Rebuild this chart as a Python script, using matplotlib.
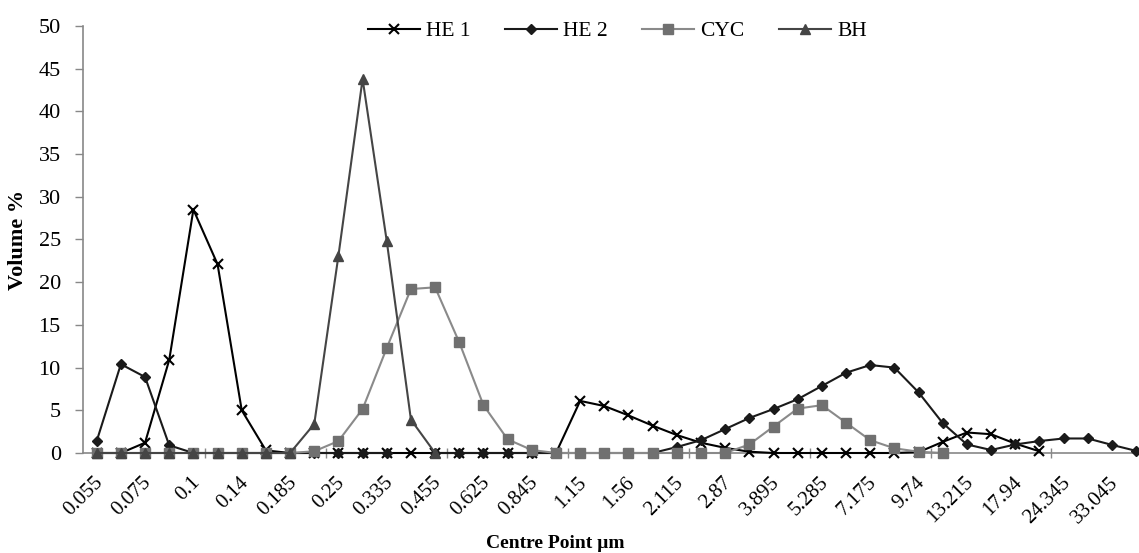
import numpy as np
import matplotlib.pyplot as plt
from matplotlib.transforms import ScaledTranslation

nan = np.nan

# centre point of each size class (um); only every second one is labelled
centres = ['0.055', '0.065', '0.075', '0.087', '0.1', '0.12', '0.14', '0.16',
           '0.185', '0.215', '0.25', '0.29', '0.335', '0.39', '0.455', '0.53',
           '0.625', '0.73', '0.845', '0.985', '1.15', '1.34', '1.56', '1.82',
           '2.115', '2.475', '2.87', '3.38', '3.895', '4.59', '5.285', '6.23',
           '7.175', '8.46', '9.74', '11.48', '13.215', '15.58', '17.94', '21.14',
           '24.345', '28.7', '33.045', '38.9']

he1 = [0, 0, 1.2, 10.9, 28.5, 22.1, 5.0, 0.3, 0, 0,
       0, 0, 0, 0, 0, 0, 0, 0, 0, 0,
       6.1, 5.5, 4.4, 3.2, 2.1, 1.2, 0.6, 0.15, 0, 0,
       0, 0, 0, 0, 0.1, 1.3, 2.4, 2.2, 1.1, 0.2,
       nan, nan, nan, nan]
he2 = [1.4, 10.4, 8.9, 0.9, 0, 0, 0, 0, 0, 0,
       0, 0, 0, nan, 0, 0, 0, 0, 0, 0,
       0, 0, 0, 0, 0.7, 1.5, 2.8, 4.1, 5.15, 6.3,
       7.85, 9.4, 10.3, 10.0, 7.1, 3.5, 1.0, 0.35, 1.0, 1.4,
       1.7, 1.7, 0.95, 0.25]
cyc = [0, 0, 0, 0, 0, 0, 0, 0, 0, 0.2,
       1.4, 5.15, 12.3, 19.2, 19.4, 12.95, 5.6, 1.6, 0.35, 0,
       0, 0, 0, 0, 0, 0, 0, 1.0, 3.1, 5.2,
       5.6, 3.55, 1.5, 0.55, 0.15, 0,
       nan, nan, nan, nan, nan, nan, nan, nan]
bh = [0, 0, 0, 0, 0, 0, 0, 0, 0, 3.4,
      23.1, 43.8, 24.8, 3.9, 0] + [nan] * 29

plt.rcParams['font.family'] = ['Liberation Serif', 'DejaVu Serif']

fig = plt.figure(figsize=(11.39, 5.53), dpi=100)
ax = fig.add_axes([83 / 1139, 1 - 453 / 553, 1 - 83 / 1139, 427 / 553])

x = np.arange(len(centres))
ax.plot(x, he1, color='black', lw=1.5, marker='x', ms=7, mew=1.5,
        label='HE 1', clip_on=False, zorder=3)
ax.plot(x, he2, color='#1a1a1a', lw=1.5, marker='D', ms=5.5,
        label='HE 2', clip_on=False, zorder=4)
ax.plot(x, cyc, color='#8a8a8a', lw=1.5, marker='s', ms=7, mfc='#707070',
        mec='#707070', label='CYC', clip_on=False, zorder=5)
ax.plot(x, bh, color='#454545', lw=1.5, marker='^', ms=7.5, mfc='#454545',
        mec='#454545', label='BH', clip_on=False, zorder=6)

ax.set_xlim(-0.567, 43.12)
ax.set_ylim(0, 50)
ax.set_yticks(np.arange(0, 51, 5))

# category labels, every second one, rotated like the spreadsheet axis
ax.set_xticks([])
shift = ScaledTranslation(-3 / 100, -20 / 100, fig.dpi_scale_trans)
for i in x[::2]:
    ax.text(i, 0, centres[i], transform=ax.transData + shift, fontsize=15,
            rotation=45, ha='right', va='top', rotation_mode='anchor')
ax.set_xticks(np.arange(4.5, 43, 5), minor=True)
ax.tick_params(axis='x', which='minor', direction='inout', length=7,
               color='#888888', width=1)
ax.tick_params(axis='y', direction='out', length=6, color='#888888',
               width=1, labelsize=16, pad=10)

for s in ['top', 'right']:
    ax.spines[s].set_visible(False)
for s in ['left', 'bottom']:
    ax.spines[s].set_color('#888888')
    ax.spines[s].set_linewidth(1.2)

ax.set_ylabel('Volume %', fontsize=16, fontweight='bold')
ax.yaxis.set_label_coords(-0.052, 0.5)
fig.text(555 / 1139, 1 - 543 / 553, 'Centre Point µm', fontsize=14,
         fontweight='bold', ha='center', va='center')

ax.legend(loc='center', bbox_to_anchor=(0.506, 0.988), ncol=4, frameon=False,
          fontsize=15.5, handlelength=2.4, handletextpad=0.3, columnspacing=1.6,
          numpoints=1)

fig.savefig('out.png', dpi=100)
